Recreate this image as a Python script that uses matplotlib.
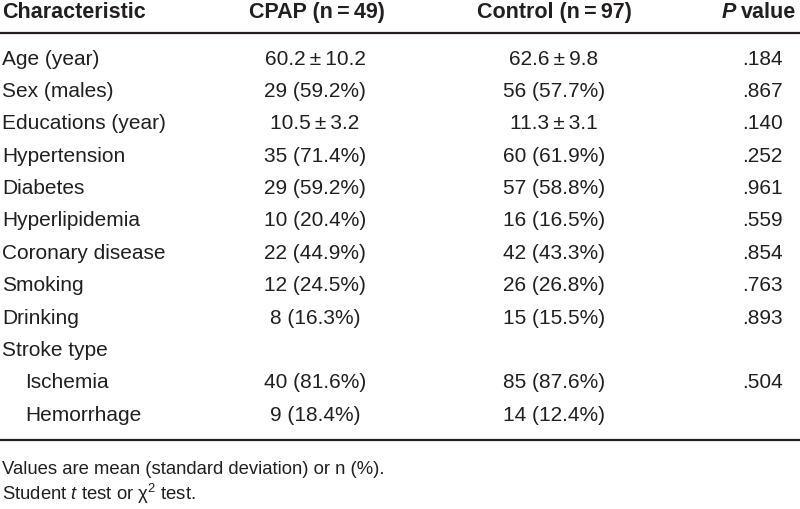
import matplotlib
matplotlib.use("Agg")
import matplotlib.pyplot as plt

# table contents
characteristics = ["Age (year)", "Sex (males)", "Educations (year)", "Hypertension",
                   "Diabetes", "Hyperlipidemia", "Coronary disease", "Smoking",
                   "Drinking", "Stroke type", "Ischemia", "Hemorrhage"]
indented = [False] * 10 + [True, True]
cpap = ["60.2\u2009\u00b1\u200910.2", "29 (59.2%)", "10.5\u2009\u00b1\u20093.2", "35 (71.4%)", "29 (59.2%)",
        "10 (20.4%)", "22 (44.9%)", "12 (24.5%)", "8 (16.3%)", "", "40 (81.6%)", "9 (18.4%)"]
control = ["62.6\u2009\u00b1\u20099.8", "56 (57.7%)", "11.3\u2009\u00b1\u20093.1", "60 (61.9%)", "57 (58.8%)",
           "16 (16.5%)", "42 (43.3%)", "26 (26.8%)", "15 (15.5%)", "", "85 (87.6%)", "14 (12.4%)"]
p_values = [".184", ".867", ".140", ".252", ".961", ".559", ".854", ".763", ".893", "", ".504", ""]
headers = ["Characteristic", "CPAP (n\u2009=\u200949)", "Control (n\u2009=\u200997)"]
footnotes = ["Values are mean (standard deviation) or n (%).",
             r"Student $\mathit{t}$ test or $\mathrm{\chi}^{2}$ test."]

fam = "Liberation Sans"
plt.rcParams['font.family'] = [fam, 'DejaVu Sans']
plt.rcParams['mathtext.fontset'] = 'custom'
plt.rcParams['mathtext.rm'] = fam
plt.rcParams['mathtext.it'] = fam + ':italic'
plt.rcParams['mathtext.bf'] = fam + ':bold'

fs = 15
col = "#231f20"

fig = plt.figure(figsize=(8, 5.09), dpi=100)
ax = fig.add_axes([0, 0, 1, 1])
ax.set_xlim(0, 800)
ax.set_ylim(509, 0)
ax.axis("off")

# header
hy = 12
ax.text(2, hy, headers[0], fontsize=fs + 0.5, fontweight="bold", color=col, va="center", ha="left")
ax.text(317, hy, headers[1], fontsize=fs + 0.5, fontweight="bold", color=col, va="center", ha="center")
ax.text(554, hy, headers[2], fontsize=fs + 0.5, fontweight="bold", color=col, va="center", ha="center")
ax.text(736, hy, "P", fontsize=fs + 0.5, fontweight="bold", style="italic", color=col, va="center", ha="right")
ax.text(741, hy, "value", fontsize=fs + 0.5, fontweight="bold", color=col, va="center", ha="left")

ax.plot([0, 800], [33, 33], color=col, lw=1.6, solid_capstyle="butt")

# body rows
y0, dy = 59, 32.4
for i, name in enumerate(characteristics):
    y = y0 + i * dy
    ax.text(25 if indented[i] else 2, y, name, fontsize=fs, color=col, va="center", ha="left")
    ax.text(315, y, cpap[i], fontsize=fs, color=col, va="center", ha="center")
    ax.text(554, y, control[i], fontsize=fs, color=col, va="center", ha="center")
    ax.text(762, y, p_values[i], fontsize=fs, color=col, va="center", ha="center")

ax.plot([0, 800], [440, 440], color=col, lw=1.6, solid_capstyle="butt")

ax.text(2, 469, footnotes[0], fontsize=13.3, color=col, va="center", ha="left")
ax.text(2, 494, footnotes[1], fontsize=13.3, color=col, va="center", ha="left")

fig.savefig("out.png", dpi=100)
